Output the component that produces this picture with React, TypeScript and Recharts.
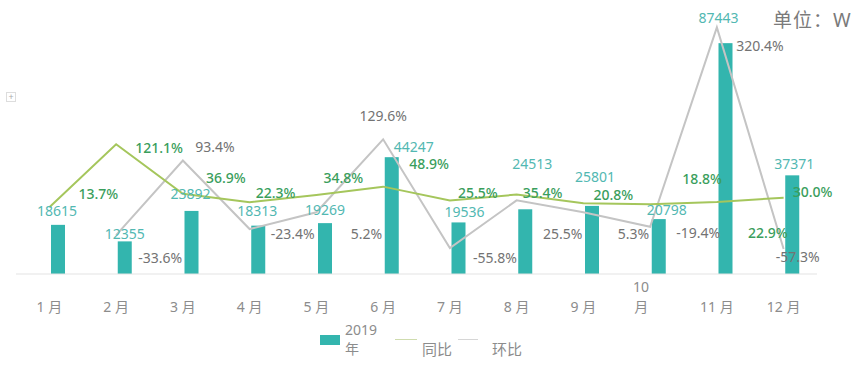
import { ComposedChart, Bar, Line, XAxis, YAxis, LabelList } from "recharts";

const months = ["1 月", "2 月", "3 月", "4 月", "5 月", "6 月", "7 月", "8 月", "9 月", "10\n月", "11 月", "12 月"];
const sales2019 = [18615, 12355, 23892, 18313, 19269, 44247, 19536, 24513, 25801, 20798, 87443, 37371];
const yoy = [13.7, 121.1, 36.9, 22.3, 34.8, 48.9, 25.5, 35.4, 20.8, 18.8, 22.9, 30.0];
const mom = [null, -33.6, 93.4, -23.4, 5.2, 129.6, -55.8, 25.5, 5.3, -19.4, 320.4, -57.3];

// label nudges [dx, dy], copying where excel dropped each label
const barLabelNudge = [[-1, -14], [0, -8], [-1, -17], [-1, -15], [0, -14], [22, -11], [6, -11], [7, -46], [3, -29], [8, -10], [-7, -26], [2, -12]];
const yoyLabelNudge = [[49, -14], [43, 3], [43, -16], [26, -10], [27, -17], [46, -23], [28, -8], [26, -2], [30, -9], [52, -26], [51, 31], [29, -6]];
const momLabelNudge = [[0, 0], [44, 22], [32, -14], [43, 4], [50, 21], [0, -24], [45, 9], [46, 33], [50, 21], [48, 6], [43, 18], [14, 8]];

const BAR_SHIFT = 9;
const font = "'Noto Sans', 'Noto Sans CJK SC', sans-serif";

const data = months.map((m, i) => ({ month: m, sales: sales2019[i], yoy: yoy[i], mom: mom[i] }));

const MonthTick = (props: any) => {
  const { x, y, payload } = props;
  const lines = String(payload.value).split("\n");
  return (
    <g>
      {lines.map((t, i) => (
        <text
          key={i}
          x={x + (lines.length > 1 ? -9 : 0)}
          y={y + 24 - (lines.length - 1 - i) * 20}
          textAnchor="middle"
          dominantBaseline="central"
          fill="#8c8c8c"
          fontSize={14}
          fontFamily={font}
        >
          {t}
        </text>
      ))}
    </g>
  );
};

const barLabel = (p: any) => {
  const { x, y, width, value, index } = p;
  const [dx, dy] = barLabelNudge[index];
  return (
    <text x={x + width / 2 + BAR_SHIFT + dx} y={y + dy} textAnchor="middle" dominantBaseline="central" fill="#52b8b2" fontSize={14} fontFamily={font}>
      {value}
    </text>
  );
};

const lineLabel = (nudge: number[][], color: string, weight: number) => (p: any) => {
  const { x, y, value, index } = p;
  if (value == null) return null;
  const [dx, dy] = nudge[index];
  return (
    <text x={x + dx} y={y + dy} textAnchor="middle" dominantBaseline="central" fill={color} fontSize={14} fontWeight={weight} fontFamily={font}>
      {Number(value).toFixed(1)}%
    </text>
  );
};

export default function App() {
  return (
    <div style={{ position: "relative", width: 860, height: 368, background: "#fff", overflow: "hidden" }}>
      <style>{"body{margin:0}"}</style>
      <ComposedChart width={860} height={368} data={data} margin={{ top: 10, right: 43, left: 16, bottom: 64 }}>
        <XAxis dataKey="month" height={30} axisLine={{ stroke: "#e3e3e3" }} tickLine={false} tick={<MonthTick />} interval={0} />
        <YAxis yAxisId="amt" hide domain={[0, 100000]} />
        <YAxis yAxisId="pct" hide domain={[-100, 350]} orientation="right" />
        <Bar
          yAxisId="amt"
          dataKey="sales"
          barSize={14}
          isAnimationActive={false}
          shape={(p: any) => <rect x={p.x + BAR_SHIFT} y={p.y} width={p.width} height={p.height} fill="#33b5ae" />}
        >
          <LabelList dataKey="sales" content={barLabel} />
        </Bar>
        <Line yAxisId="pct" dataKey="mom" type="linear" stroke="#c4c4c4" strokeWidth={2} dot={false} isAnimationActive={false}>
          <LabelList dataKey="mom" content={lineLabel(momLabelNudge, "#737373", 400)} />
        </Line>
        <Line yAxisId="pct" dataKey="yoy" type="linear" stroke="#a5c65c" strokeWidth={2} dot={false} isAnimationActive={false}>
          <LabelList dataKey="yoy" content={lineLabel(yoyLabelNudge, "#3a9e5c", 500)} />
        </Line>
      </ComposedChart>

      <div style={{ position: "absolute", left: 773, top: 5, fontSize: 19, letterSpacing: 1, color: "#7a7a7a", fontFamily: font }}>单位：W</div>

      <div
        style={{
          position: "absolute", left: 6, top: 92, width: 8, height: 8, border: "1px solid #ddd",
          fontSize: 9, lineHeight: "8px", textAlign: "center", color: "#aaa", fontFamily: font,
        }}
      >
        +
      </div>

      <div style={{ position: "absolute", left: 320, top: 335, width: 20, height: 10, background: "#33b5ae" }} />
      <div style={{ position: "absolute", left: 345, top: 320, fontSize: 14, lineHeight: "19px", color: "#8c8c8c", fontFamily: font }}>
        2019
        <br />年
      </div>
      <div style={{ position: "absolute", left: 395, top: 339, width: 22, height: 1, background: "#cfdcae" }} />
      <div style={{ position: "absolute", left: 422, top: 338, fontSize: 15, color: "#8c8c8c", fontFamily: font }}>同比</div>
      <div style={{ position: "absolute", left: 458, top: 339, width: 20, height: 1, background: "#d6d6d6" }} />
      <div style={{ position: "absolute", left: 492, top: 338, fontSize: 15, color: "#8c8c8c", fontFamily: font }}>环比</div>
    </div>
  );
}
